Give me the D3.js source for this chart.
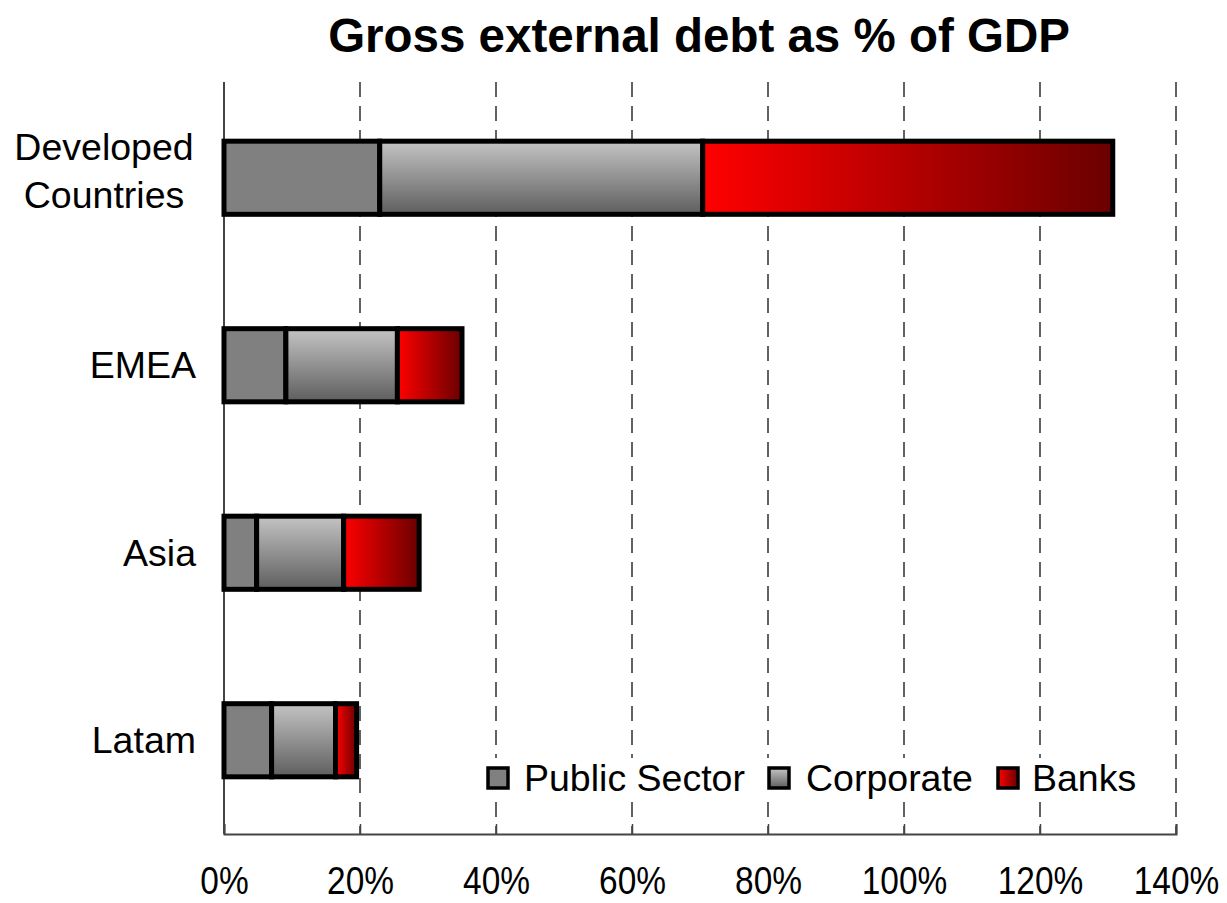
<!DOCTYPE html>
<html>
<head>
<meta charset="utf-8">
<script src="https://cdn.jsdelivr.net/npm/d3@7"></script>
<style>
  body { margin: 0; background: #fff; }
  text { font-family: "Liberation Sans", Arial, sans-serif; fill: #000; }
</style>
</head>
<body>
<svg id="chart" width="1227" height="903"></svg>
<script>
/* ======================== DATA ========================= */
const categories   = ["Developed Countries", "EMEA", "Asia", "Latam"];
const publicSector = [22.9, 9.1, 4.8, 7.0];
const corporate    = [47.5, 16.4, 12.8, 9.4];
const banks        = [60.3, 9.5, 11.1, 3.1];
const seriesNames  = ["Public Sector", "Corporate", "Banks"];
const xTicks       = [0, 20, 40, 60, 80, 100, 120, 140];

/* ======================== SETUP ======================== */
const svg = d3.select("#chart");
const margin = { top: 84, left: 224, right: 51, bottom: 69 };
const width  = 1227 - margin.left - margin.right;
const height = 903 - margin.top - margin.bottom;

const rows = categories.map((c, i) => ({
    category: c,
    "Public Sector": publicSector[i],
    "Corporate": corporate[i],
    "Banks": banks[i]
}));

const x = d3.scaleLinear().domain([0, 140]).range([0, width]);
const y = d3.scaleBand().domain(categories).range([0, height])
            .paddingInner(0.61).paddingOuter(0.305);

const defs = svg.append("defs");

let corpGrad = defs.append("linearGradient")
                   .attr("id", "gradCorp")
                   .attr("x1", 0).attr("y1", 0).attr("x2", 0).attr("y2", 1);
corpGrad.append("stop").attr("offset", "0%").attr("stop-color", "#c4c4c4");
corpGrad.append("stop").attr("offset", "100%").attr("stop-color", "#5e5e5e");

let bankGrad = defs.append("linearGradient")
                   .attr("id", "gradBank")
                   .attr("x1", 0).attr("y1", 0).attr("x2", 1).attr("y2", 0);
bankGrad.append("stop").attr("offset", "0%").attr("stop-color", "#ff0000");
bankGrad.append("stop").attr("offset", "100%").attr("stop-color", "#6a0000");

const fills = {
    "Public Sector": "#808080",
    "Corporate": "url(#gradCorp)",
    "Banks": "url(#gradBank)"
};

const g = svg.append("g").attr("transform", `translate(${margin.left},${margin.top})`);

/* ===================== GRID + AXES ===================== */
g.append("g")
 .selectAll("line")
 .data(xTicks.slice(1))
 .join("line")
 .attr("x1", d => x(d)).attr("x2", d => x(d))
 .attr("y1", -2).attr("y2", height)
 .attr("stroke", "#222")
 .attr("stroke-width", 1.4)
 .attr("stroke-dasharray", "15,9");

// y axis line
g.append("line")
 .attr("x1", 0).attr("x2", 0).attr("y1", -2).attr("y2", height)
 .attr("stroke", "#444").attr("stroke-width", 2);

// x axis, tick labels a bit condensed like the source
const xAxis = g.append("g")
               .attr("transform", `translate(0,${height})`)
               .call(d3.axisBottom(x).tickValues(xTicks).tickFormat(d => d + "%").tickSize(-10));
xAxis.select(".domain").attr("stroke", "#444").attr("stroke-width", 2);
xAxis.selectAll(".tick line").attr("stroke", "#444").attr("stroke-width", 1.5);
xAxis.selectAll(".tick text")
     .attr("font-size", 38)
     .attr("y", 0)
     .attr("dy", 0)
     .attr("transform", "translate(0,60) scale(0.88,1)")
     .style("font-family", "Liberation Sans, Arial, sans-serif");

/* ========================= BARS ======================== */
const stacked = d3.stack().keys(seriesNames)(rows);

g.append("g")
 .selectAll("g")
 .data(stacked)
 .join("g")
 .attr("fill", d => fills[d.key])
 .selectAll("rect")
 .data(d => d)
 .join("rect")
 .attr("x", d => x(d[0]))
 .attr("y", d => y(d.data.category))
 .attr("width", d => x(d[1]) - x(d[0]))
 .attr("height", y.bandwidth())
 .attr("stroke", "#000")
 .attr("stroke-width", 5);

/* ===================== CATEGORY LABELS ================= */
const labelG = svg.append("g").attr("font-size", 37.5);
categories.forEach(d => {
    let cy = margin.top + y(d) + y.bandwidth() / 2;
    if (d === "Developed Countries") {
        let t = labelG.append("text").attr("text-anchor", "middle");
        t.append("tspan").attr("x", 104).attr("y", cy - 18).text("Developed");
        t.append("tspan").attr("x", 104).attr("y", cy + 30).text("Countries");
    } else {
        labelG.append("text")
              .attr("text-anchor", "end")
              .attr("x", 196).attr("y", cy + 13)
              .text(d);
    }
});

/* ======================== LEGEND ======================= */
const legendItems = [
    { name: "Public Sector", x: 488, tx: 524 },
    { name: "Corporate", x: 769, tx: 806 },
    { name: "Banks", x: 998, tx: 1032 }
];
const legend = svg.append("g");
legend.append("rect")
      .attr("x", 478).attr("y", 758)
      .attr("width", 668).attr("height", 44)
      .attr("fill", "#fff");
legend.selectAll("rect.swatch")
      .data(legendItems)
      .join("rect")
      .attr("class", "swatch")
      .attr("x", d => d.x).attr("y", 768)
      .attr("width", 20).attr("height", 20)
      .attr("fill", d => fills[d.name])
      .attr("stroke", "#000").attr("stroke-width", 3.5);
legend.selectAll("text")
      .data(legendItems)
      .join("text")
      .attr("x", d => d.tx).attr("y", 791)
      .attr("font-size", 37.5)
      .text(d => d.name);

/* ========================= TITLE ======================= */
svg.append("text")
   .attr("x", 699).attr("y", 52)
   .attr("text-anchor", "middle")
   .attr("font-size", 47.5)
   .attr("font-weight", "bold")
   .text("Gross external debt as % of GDP");
</script>
</body>
</html>
